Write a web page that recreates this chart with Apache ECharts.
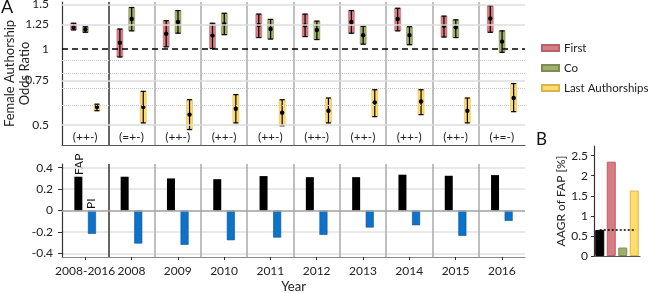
<!DOCTYPE html>
<html>
<head>
<meta charset="utf-8">
<script src="https://cdn.jsdelivr.net/npm/echarts@6/dist/echarts.min.js"></script>
<style>
  html, body { margin: 0; padding: 0; background: #fff; }
  #chart { width: 650px; height: 293px; }
</style>
</head>
<body>
<div id="chart"></div>
<script>
const years = ["2008-2016", "2008", "2009", "2010", "2011", "2012", "2013", "2014", "2015", "2016"];
const notes = ["(++-)", "(=+-)", "(++-)", "(++-)", "(++-)", "(++-)", "(++-)", "(++-)", "(++-)", "(+=-)"];

// odds ratios with confidence limits
const firstOR = [1.22, 1.06, 1.15, 1.13, 1.245, 1.24, 1.28, 1.315, 1.235, 1.32];
const firstLo = [1.19, 0.93, 1.02, 1.005, 1.11, 1.12, 1.155, 1.18, 1.115, 1.165];
const firstHi = [1.265, 1.20, 1.295, 1.265, 1.375, 1.375, 1.42, 1.45, 1.35, 1.485];
const coOR = [1.195, 1.315, 1.28, 1.255, 1.20, 1.19, 1.135, 1.135, 1.22, 1.07];
const coLo = [1.165, 1.18, 1.155, 1.14, 1.095, 1.09, 1.045, 1.04, 1.11, 0.97];
const coHi = [1.225, 1.46, 1.42, 1.385, 1.31, 1.29, 1.23, 1.225, 1.305, 1.18];
const lastOR = [0.59, 0.59, 0.55, 0.58, 0.56, 0.57, 0.615, 0.62, 0.57, 0.64];
const lastLo = [0.57, 0.51, 0.48, 0.51, 0.497, 0.51, 0.54, 0.55, 0.51, 0.565];
const lastHi = [0.605, 0.68, 0.63, 0.66, 0.63, 0.64, 0.69, 0.69, 0.64, 0.73];

const orTicks = [0.5, 0.75, 1.25, 1.5];
const orMinor = [0.6, 0.7, 0.8, 0.9];

// bottom panel
const fap = [0.316, 0.316, 0.30, 0.293, 0.322, 0.312, 0.312, 0.335, 0.325, 0.331];
const pi = [-0.218, -0.309, -0.321, -0.278, -0.253, -0.228, -0.159, -0.138, -0.237, -0.097];
const corrTicks = [-0.4, -0.2, 0, 0.2, 0.4];

// panel B
const aagrCats = ["FAP", "First", "Co", "Last"];
const aagr = [0.65, 2.35, 0.21, 1.63];
const aagrTicks = [0, 0.5, 1, 1.5, 2, 2.5];

const RED = "#d67c82", GREEN = "#a0ae6e", YELLOW = "#ffdc6c";
const sepColors = ["rgba(0,0,0,0)", "#333", "#aaa", "#aaa", "#aaa", "#aaa", "#aaa", "#aaa", "#aaa", "#aaa", "rgba(0,0,0,0)"];
const font = "Lato";

function errData(lo, mid, hi) {
    return mid.map((v, i) => [i, lo[i], v, hi[i]]);
}

function errorBar(offset, fill, edge) {
    return function (params, api) {
        const i = api.value(0);
        const lo = api.coord([i, api.value(1)]);
        const mid = api.coord([i, api.value(2)]);
        const hi = api.coord([i, api.value(3)]);
        const x = lo[0] + api.size([1, 0])[0] * offset;
        const ln = { stroke: "#000", lineWidth: 1.2 };
        return {
            type: "group",
            children: [
                { type: "rect", shape: { x: x - 3, y: hi[1], width: 6, height: lo[1] - hi[1] }, style: { fill: fill, stroke: edge, lineWidth: 0.5 } },
                { type: "line", shape: { x1: x, y1: hi[1], x2: x, y2: lo[1] }, style: ln },
                { type: "line", shape: { x1: x - 2.5, y1: hi[1], x2: x + 2.5, y2: hi[1] }, style: ln },
                { type: "line", shape: { x1: x - 2.5, y1: lo[1], x2: x + 2.5, y2: lo[1] }, style: ln },
                { type: "circle", shape: { cx: x, cy: mid[1], r: 2.2 }, style: { fill: "#000" } }
            ]
        };
    };
}

const chart = echarts.init(document.getElementById("chart"));

const gridMarks = [];
orTicks.forEach(v => gridMarks.push({ yAxis: v, lineStyle: { color: "#dcdcdc", width: 1.5, type: "solid" } }));
orMinor.forEach(v => gridMarks.push({ yAxis: v, label: { show: false }, lineStyle: { color: "#c8c8c8", width: 1, type: "dotted" } }));
gridMarks.push({ yAxis: 1, lineStyle: { color: "#000", width: 1.5, type: [6, 4] } });

const option = {
    animation: false,
    textStyle: { fontFamily: font },
    grid: [
        { left: 62, right: 125, top: 2, height: 143, outerBoundsMode: "none" },
        { left: 62, right: 125, top: 164, height: 93, outerBoundsMode: "none" },
        { left: 594, right: 10, top: 146, height: 110, outerBoundsMode: "none" }
    ],
    legend: {
        data: ["First", "Co", "Last Authorships"],
        orient: "vertical",
        left: 541,
        top: 41,
        padding: 0,
        icon: "rect",
        itemWidth: 17,
        itemHeight: 6,
        itemGap: 6,
        textStyle: { fontFamily: font, fontSize: 11.5, color: "#222", lineHeight: 14, width: 90, overflow: "none" }
    },
    graphic: [
        { type: "text", left: 1, top: -2, style: { text: "A", font: "18px " + font, fill: "#111" } },
        { type: "text", left: 536, top: 131, style: { text: "B", font: "17px " + font, fill: "#111" } },
        { type: "text", x: 79, y: 175, rotation: Math.PI / 2, style: { text: "FAP", font: "12px " + font, fill: "#111", align: "left", verticalAlign: "middle" } },
        { type: "text", x: 91, y: 209, rotation: Math.PI / 2, style: { text: "PI", font: "12px " + font, fill: "#111", align: "left", verticalAlign: "middle" } }
    ],
    xAxis: [
        {
            type: "category", gridIndex: 0, data: years, boundaryGap: true,
            axisLine: { onZero: false, lineStyle: { color: "#555", width: 1.2 } },
            axisTick: { show: false },
            axisLabel: { inside: true, margin: 2, interval: 0, fontSize: 12, color: "#222", formatter: (v, i) => notes[i] },
            splitLine: { show: true, interval: 0, lineStyle: { color: sepColors, width: 1.5 } }
        },
        {
            type: "category", gridIndex: 1, data: years, boundaryGap: true,
            axisLine: { onZero: false, lineStyle: { color: "#888", width: 1.2 } },
            axisTick: { show: true, alignWithLabel: true, length: 3, lineStyle: { color: "#333" } },
            axisLabel: { interval: 0, margin: 8, fontSize: 12, color: "#222" },
            splitLine: { show: true, interval: 0, lineStyle: { color: sepColors, width: 1.5 } },
            name: "Year", nameLocation: "middle", nameGap: 23,
            nameTextStyle: { fontSize: 13, color: "#222" }
        },
        {
            type: "category", gridIndex: 2, data: aagrCats,
            axisLine: { lineStyle: { color: "#555", width: 1.2 } },
            axisTick: { show: false },
            axisLabel: { show: false },
            splitLine: { show: false }
        }
    ],
    yAxis: [
        {
            type: "log", gridIndex: 0, logBase: 10, min: 0.417, max: 1.535,
            axisLine: { show: true, lineStyle: { color: "#333", width: 1.2 } },
            axisTick: { show: false },
            axisLabel: { show: false },
            splitLine: { show: false },
            name: "Female Authorship\nOdds Ratio", nameLocation: "middle", nameGap: 30,
            nameTextStyle: { fontSize: 13, color: "#222", lineHeight: 15 }
        },
        {
            type: "value", gridIndex: 1, min: -0.435, max: 0.435,
            axisLine: { show: true, lineStyle: { color: "#333", width: 1.2 } },
            axisTick: { show: true, length: 4, customValues: corrTicks, lineStyle: { color: "#333" } },
            axisLabel: { customValues: corrTicks, margin: 9, fontSize: 12, color: "#222" },
            splitLine: { show: true, lineStyle: { color: "#e2e2e2", width: 1.5 } }
        },
        {
            type: "value", gridIndex: 2, min: 0, max: 2.74,
            axisLine: { show: true, lineStyle: { color: "#333", width: 1.2 } },
            axisTick: { show: true, length: 3, customValues: aagrTicks, lineStyle: { color: "#333" } },
            axisLabel: { customValues: aagrTicks, margin: 6, fontSize: 12, color: "#222" },
            splitLine: { show: false },
            name: "AAGR of FAP [%]", nameLocation: "middle", nameGap: 19,
            nameTextStyle: { fontSize: 12, color: "#222" }
        }
    ],
    series: [
        {
            name: "First", type: "custom", xAxisIndex: 0, yAxisIndex: 0,
            itemStyle: { color: RED, borderColor: "#b5626a", borderWidth: 0.6 },
            encode: { x: 0, y: [1, 2, 3] },
            renderItem: errorBar(-0.25, RED, "#b5626a"),
            data: errData(firstLo, firstOR, firstHi),
            markLine: {
                silent: true, symbol: "none",
                label: { show: true, position: "start", distance: 13, fontSize: 12, color: "#222", formatter: p => String(p.value) },
                data: gridMarks
            },
            z: 3
        },
        {
            name: "Co", type: "custom", xAxisIndex: 0, yAxisIndex: 0,
            itemStyle: { color: GREEN, borderColor: "#7d8c50", borderWidth: 0.6 },
            encode: { x: 0, y: [1, 2, 3] },
            renderItem: errorBar(0.005, GREEN, "#7d8c50"),
            data: errData(coLo, coOR, coHi),
            z: 3
        },
        {
            name: "Last Authorships", type: "custom", xAxisIndex: 0, yAxisIndex: 0,
            itemStyle: { color: YELLOW, borderColor: "#d8b64a", borderWidth: 0.6 },
            encode: { x: 0, y: [1, 2, 3] },
            renderItem: errorBar(0.255, YELLOW, "#d8b64a"),
            data: errData(lastLo, lastOR, lastHi),
            z: 3
        },
        {
            name: "FAP", type: "bar", xAxisIndex: 1, yAxisIndex: 1,
            data: fap, barWidth: 8, barGap: "70%",
            itemStyle: { color: "#000" },
            markLine: {
                silent: true, symbol: "none", label: { show: false },
                lineStyle: { color: "#a8a8a8", width: 1.5, type: "solid" },
                data: [{ yAxis: 0 }]
            }
        },
        {
            name: "PI", type: "bar", xAxisIndex: 1, yAxisIndex: 1,
            data: pi, barWidth: 8,
            itemStyle: { color: "#0d72c9", borderColor: "#0a4f8c", borderWidth: 0.6 }
        },
        {
            name: "AAGR", type: "bar", xAxisIndex: 2, yAxisIndex: 2,
            barWidth: 9,
            data: aagr.map((v, i) => ({
                value: v,
                itemStyle: {
                    color: ["#000", RED, GREEN, YELLOW][i],
                    borderColor: ["#000", "#b5626a", "#7d8c50", "#d8b64a"][i],
                    borderWidth: 1
                }
            })),
            markLine: {
                silent: true, symbol: "none", label: { show: false },
                lineStyle: { color: "#000", width: 1.5, type: [2, 2] },
                data: [[{ xAxis: 0, yAxis: aagr[0] }, { xAxis: 3, yAxis: aagr[0] }]]
            }
        }
    ]
};

chart.setOption(option);
</script>
</body>
</html>
